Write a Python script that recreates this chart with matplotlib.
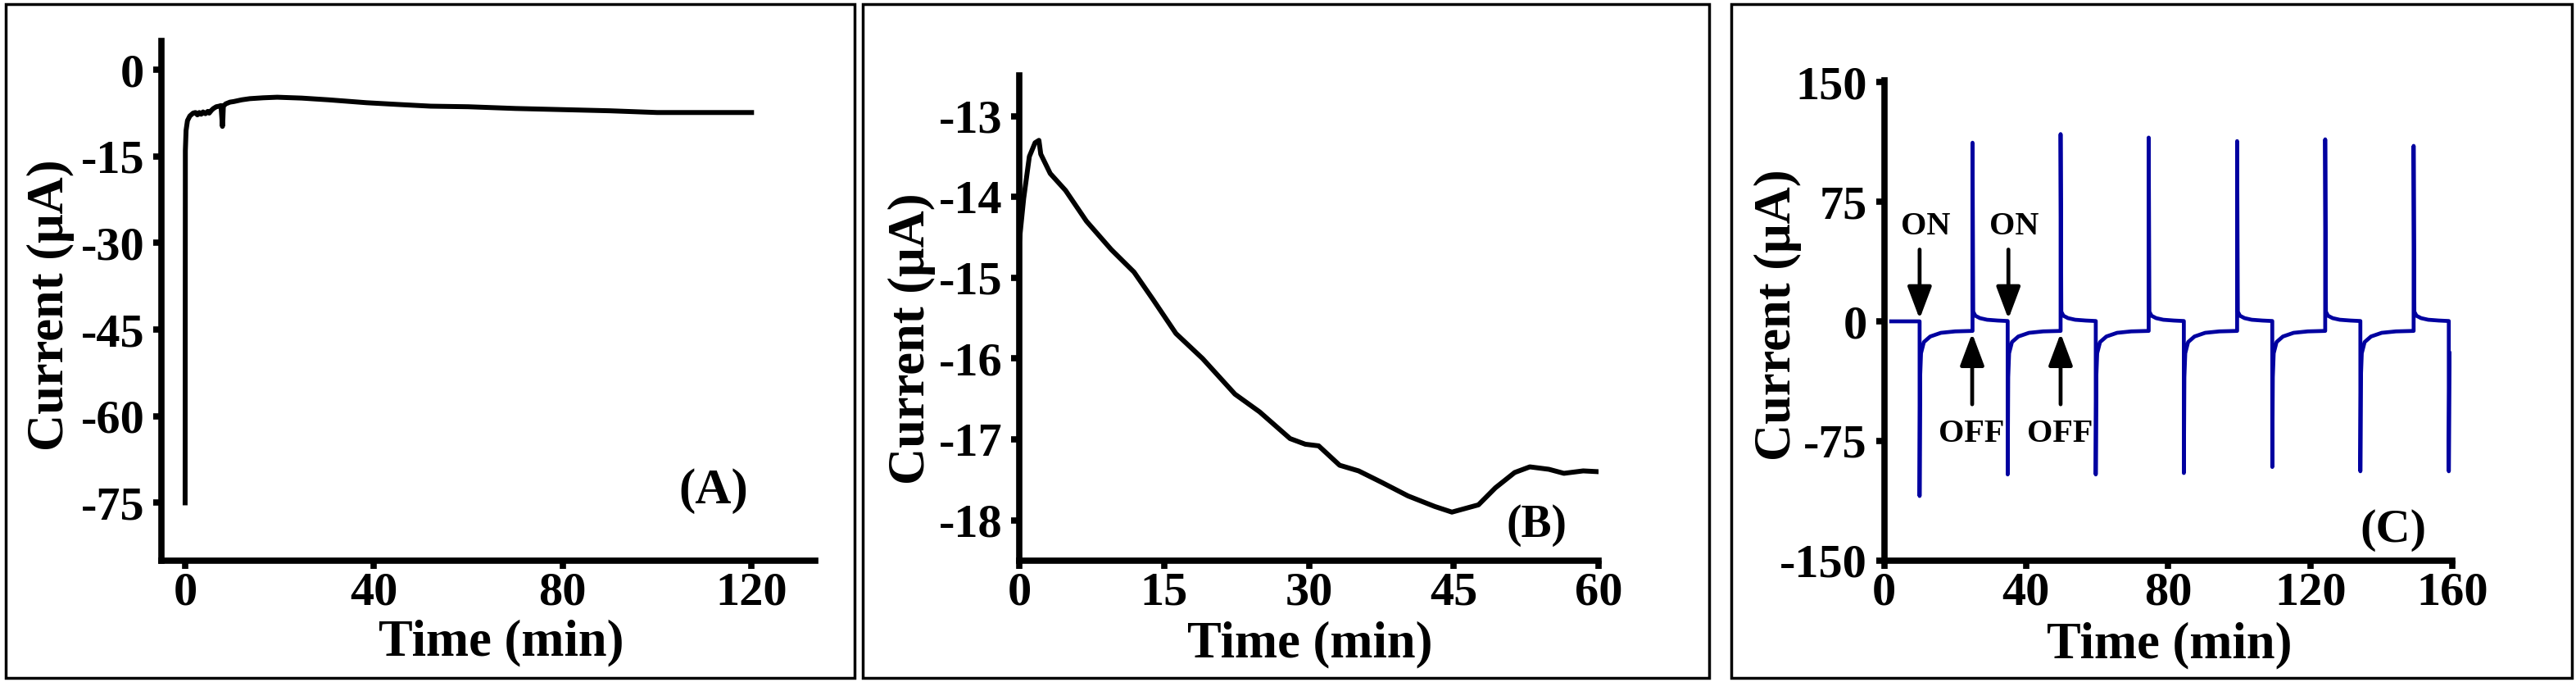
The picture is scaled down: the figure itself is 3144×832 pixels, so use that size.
import numpy as np
import matplotlib.pyplot as plt
from matplotlib.patches import Rectangle

plt.rcParams['font.family'] = ['Liberation Serif', 'DejaVu Serif']
plt.rcParams['font.weight'] = 'bold'
plt.rcParams['axes.unicode_minus'] = False

# (A) corrente ao longo de 120 min
t_a = [0.0, 0.05, 0.2, 0.5, 1.0, 1.7, 2.2, 2.6, 3.0, 3.4, 3.8, 4.3, 4.8, 5.1,
       5.6, 6.0, 6.6, 7.2, 7.6, 7.8, 7.9, 8.0, 8.1, 8.6, 9.5, 10.3, 12.0, 13.7,
       16.5, 19.5, 24.7, 30.4, 38.4, 45.0, 52.0, 60.0, 70.0, 80.0, 90.0, 100.0,
       110.0, 120.0]
i_a = [-75.0, -14.0, -10.5, -8.8, -8.0, -7.5, -7.4, -7.8, -7.4, -7.7, -7.3, -7.6,
       -7.2, -7.5, -7.0, -6.7, -6.4, -6.3, -6.2, -8.5, -9.8, -8.5, -6.3, -5.9,
       -5.6, -5.5, -5.2, -5.0, -4.85, -4.75, -4.9, -5.2, -5.7, -6.0, -6.3, -6.4,
       -6.7, -6.9, -7.1, -7.4, -7.4, -7.4]

# (B) primeiros 60 min
t_b = [0.0, 0.45, 1.04, 1.63, 2.03, 2.22, 3.2, 4.79, 6.95, 9.51, 11.88, 13.85,
       16.22, 18.98, 22.33, 24.89, 28.04, 29.62, 31.0, 33.17, 35.14, 37.5, 40.26,
       43.02, 44.8, 47.55, 49.3, 51.3, 52.87, 54.84, 56.4, 58.4, 60.0]
i_b = [-14.55, -14.02, -13.5, -13.33, -13.3, -13.47, -13.71, -13.92, -14.3,
       -14.65, -14.93, -15.27, -15.69, -16.0, -16.44, -16.66, -16.99, -17.06,
       -17.08, -17.32, -17.39, -17.53, -17.7, -17.83, -17.9, -17.81, -17.6,
       -17.41, -17.34, -17.37, -17.42, -17.39, -17.4]

# (C) ciclos ON/OFF
t_c = [2.0, 10.0, 10.0, 10.15, 10.4, 11.2, 13.0, 16.0, 20.0, 24.9,
       24.9, 25.1, 25.7, 27.0, 29.0, 32.0, 34.8,
       34.8, 34.95, 35.2, 36.0, 37.8, 40.8, 44.8, 49.7,
       49.7, 49.9, 50.5, 51.8, 53.8, 56.8, 59.6,
       59.6, 59.75, 60.0, 60.8, 62.6, 65.6, 69.6, 74.5,
       74.5, 74.7, 75.3, 76.6, 78.6, 81.6, 84.4,
       84.4, 84.55, 84.8, 85.6, 87.4, 90.4, 94.4, 99.4,
       99.4, 99.6, 100.2, 101.5, 103.5, 106.5, 109.3,
       109.3, 109.45, 109.7, 110.5, 112.3, 115.3, 119.3, 124.2,
       124.2, 124.4, 125.0, 126.3, 128.3, 131.3, 134.1,
       134.1, 134.25, 134.5, 135.3, 137.1, 140.1, 144.1, 149.1,
       149.1, 149.3, 149.9, 151.2, 153.2, 156.2, 159.0,
       159.0, 159.2]
i_c = [0.0, 0.0, -109.5, -35.0, -20.0, -13.0, -9.5, -7.2, -6.3, -6.0,
       112.0, 6.0, 3.5, 2.0, 1.0, 0.5, 0.2,
       -96.0, -35.0, -20.0, -13.0, -9.5, -7.2, -6.3, -6.0,
       117.4, 6.0, 3.5, 2.0, 1.0, 0.5, 0.2,
       -96.0, -35.0, -20.0, -13.0, -9.5, -7.2, -6.3, -6.0,
       115.2, 6.0, 3.5, 2.0, 1.0, 0.5, 0.2,
       -95.1, -35.0, -20.0, -13.0, -9.5, -7.2, -6.3, -6.0,
       113.0, 6.0, 3.5, 2.0, 1.0, 0.5, 0.2,
       -91.3, -35.0, -20.0, -13.0, -9.5, -7.2, -6.3, -6.0,
       114.1, 6.0, 3.5, 2.0, 1.0, 0.5, 0.2,
       -94.0, -35.0, -20.0, -13.0, -9.5, -7.2, -6.3, -6.0,
       110.0, 6.0, 3.5, 2.0, 1.0, 0.5, 0.2,
       -94.0, -20.0]

on_t = [10.0, 35.0]
off_t = [24.8, 49.7]

fig = plt.figure(figsize=(31.44, 8.32), dpi=100)

# molduras dos paineis
for x0, x1 in [(0.0022, 0.3317), (0.3349, 0.6635), (0.6721, 0.9985)]:
    fig.patches.append(Rectangle((x0, 0.006), x1 - x0, 0.988, transform=fig.transFigure,
                                 fill=False, lw=2.5, edgecolor='black'))

ax_a = fig.add_axes([0.0627, 0.178, 0.2538, 0.762])
ax_b = fig.add_axes([0.3957, 0.178, 0.2249, 0.711])
ax_c = fig.add_axes([0.7314, 0.178, 0.2206, 0.704])

for ax in (ax_a, ax_b, ax_c):
    for s in ('top', 'right'):
        ax.spines[s].set_visible(False)
    for s in ('left', 'bottom'):
        ax.spines[s].set_linewidth(5.5)
    ax.tick_params(direction='out', length=7, width=5.5, labelsize=42)
    ax.tick_params(axis='x', pad=3)
    ax.tick_params(axis='y', pad=8)

ax_a.plot(t_a, i_a, color='black', lw=4.3, solid_joinstyle='round')
ax_a.set_xlim(-5, 133.5)
ax_a.set_ylim(-85, 5)
ax_a.set_xticks([0, 40, 80, 120])
ax_a.set_yticks([0, -15, -30, -45, -60, -75])
ax_a.text(112, -73, '(A)', fontsize=44, fontweight='bold', ha='center', va='center')

ax_b.plot(t_b, i_b, color='black', lw=4.3, solid_joinstyle='round')
ax_b.set_xlim(0, 60)
ax_b.set_ylim(-18.5, -12.5)
ax_b.set_xticks([0, 15, 30, 45, 60])
ax_b.set_yticks([-13, -14, -15, -16, -17, -18])
ax_b.text(53.6, -18.06, '(B)', fontsize=40, fontweight='bold', ha='center', va='center')

ax_c.plot(t_c, i_c, color='#0000a0', lw=3.4, zorder=3, solid_joinstyle='round')
ax_c.set_xlim(0, 160)
ax_c.set_ylim(-150, 151)
ax_c.set_xticks([0, 40, 80, 120, 160])
ax_c.set_yticks([150, 75, 0, -75, -150])
ax_c.text(143.3, -131, '(C)', fontsize=42, fontweight='bold', ha='center', va='center')

arrow = dict(arrowstyle='-|>,head_length=0.8,head_width=0.3', color='black',
             lw=3.4, mutation_scale=30, shrinkA=0, shrinkB=0)
for t in on_t:
    ax_c.annotate('', xy=(t, 1.5), xytext=(t, 45), arrowprops=arrow, zorder=2)
    ax_c.text(t + 1.6, 59.6, 'ON', fontsize=29, fontweight='bold', ha='center', va='center', zorder=1)
for t in off_t:
    ax_c.annotate('', xy=(t, -7.5), xytext=(t, -52), arrowprops=arrow, zorder=2)
    ax_c.text(t - 0.2, -70.4, 'OFF', fontsize=29, fontweight='bold', ha='center', va='center', zorder=1)

label_pos = [(ax_a, (0.520, -0.159), (-0.170, 0.492)),
             (ax_b, (0.502, -0.174), (-0.185, 0.458)),
             (ax_c, (0.5025, -0.176), (-0.187, 0.512))]
for ax, xl, yl in label_pos:
    ax.set_xlabel('Time (min)', fontsize=45, fontweight='bold', va='center')
    ax.set_ylabel('Current (\u03bcA)', fontsize=45, fontweight='bold', va='center', ha='center')
    ax.xaxis.set_label_coords(*xl)
    ax.yaxis.set_label_coords(*yl)

fig.savefig('out.png', dpi=100)
